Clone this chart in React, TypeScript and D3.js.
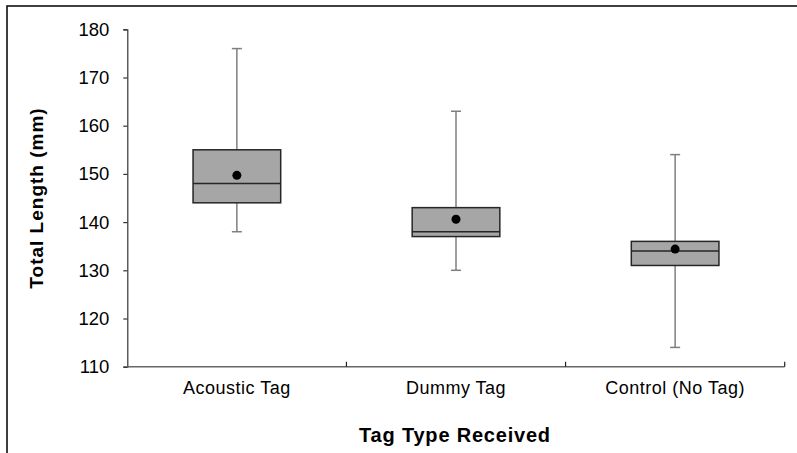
import * as d3 from "d3";
import React, {useEffect, useRef} from "react";

// values (mm)
const categories = ["Acoustic Tag", "Dummy Tag", "Control (No Tag)"];
const whiskerLow = [138, 130, 114];
const q1 = [144, 137, 131];
const medians = [148, 138, 134];
const q3 = [155, 143, 136];
const whiskerHigh = [176, 163, 154];
const means = [149.7, 140.6, 134.4];
const yTicks = [110, 120, 130, 140, 150, 160, 170, 180];

const W = 797;
const H = 453;
const margin = {top: 29.3, right: 12.3, bottom: 86.3, left: 127.3};
const font = "'Liberation Sans', Arial, sans-serif";

const App = () => {
    const svgRef = useRef<SVGSVGElement>(null);

    useEffect(() => {
        const svgEl = d3.select(svgRef.current);
        svgEl.selectAll("*").remove();

        const x = d3.scaleBand()
            .domain(categories)
            .range([margin.left, W - margin.right])
            .padding(0);

        const y = d3.scaleLinear()
            .domain([110, 180])
            .range([H - margin.bottom, margin.top]);

        // outer frame (left + top only)
        svgEl.append("path")
            .attr("d", `M7,${H} L7,6 L${W},6`)
            .attr("fill", "none")
            .attr("stroke", "#000")
            .attr("stroke-width", 1.5);

        // y axis
        const yAxis = svgEl.append("g")
            .attr("transform", `translate(${margin.left},0)`)
            .call(d3.axisLeft(y).tickValues(yTicks).tickSize(4).tickPadding(14).tickFormat(d3.format("d")));
        yAxis.select(".domain").attr("stroke", "#333").attr("stroke-width", 1.2);
        yAxis.selectAll(".tick line").attr("stroke", "#333").attr("stroke-width", 1.2);
        yAxis.selectAll(".tick text")
            .attr("font-family", font)
            .attr("font-size", 18.5)
            .attr("fill", "#000");

        // x axis
        const y0 = y(110);
        const xg = svgEl.append("g");
        xg.append("line")
            .attr("x1", margin.left).attr("x2", W - margin.right)
            .attr("y1", y0).attr("y2", y0)
            .attr("stroke", "#666").attr("stroke-width", 1.5);
        const bounds = categories.map(c => (x(c) as number) + x.bandwidth());
        xg.selectAll(".xtick")
            .data(bounds)
            .enter()
            .append("line")
            .attr("x1", d => d).attr("x2", d => d)
            .attr("y1", y0).attr("y2", y0 - 5)
            .attr("stroke", "#222").attr("stroke-width", 1.2);
        xg.selectAll(".xlab")
            .data(categories)
            .enter()
            .append("text")
            .attr("x", d => (x(d) as number) + x.bandwidth() / 2)
            .attr("y", 394)
            .attr("text-anchor", "middle")
            .attr("font-family", font)
            .attr("font-size", 18)
            .attr("letter-spacing", 0.5)
            .text(d => d);

        // axis titles
        svgEl.append("text")
            .attr("x", 455)
            .attr("y", 442)
            .attr("text-anchor", "middle")
            .attr("font-family", font)
            .attr("font-size", 20)
            .attr("font-weight", "bold")
            .attr("letter-spacing", 0.8)
            .text("Tag Type Received");

        svgEl.append("text")
            .attr("transform", "translate(43,198) rotate(-90)")
            .attr("text-anchor", "middle")
            .attr("font-family", font)
            .attr("font-size", 19)
            .attr("font-weight", "bold")
            .attr("letter-spacing", 1)
            .text("Total Length (mm)");

        // boxes
        const boxW = x.bandwidth() * 0.4;
        const capW = 10;
        const boxes = svgEl.append("g");
        categories.forEach((c, i) => {
            const cx = (x(c) as number) + x.bandwidth() / 2;
            const g = boxes.append("g");
            // whiskers
            g.append("line")
                .attr("x1", cx).attr("x2", cx)
                .attr("y1", y(whiskerHigh[i])).attr("y2", y(q3[i]))
                .attr("stroke", "#7f7f7f").attr("stroke-width", 1.5);
            g.append("line")
                .attr("x1", cx).attr("x2", cx)
                .attr("y1", y(q1[i])).attr("y2", y(whiskerLow[i]))
                .attr("stroke", "#7f7f7f").attr("stroke-width", 1.5);
            [whiskerHigh[i], whiskerLow[i]].forEach(v => {
                g.append("line")
                    .attr("x1", cx - capW / 2).attr("x2", cx + capW / 2)
                    .attr("y1", y(v)).attr("y2", y(v))
                    .attr("stroke", "#7f7f7f").attr("stroke-width", 1.5);
            });
            g.append("rect")
                .attr("x", cx - boxW / 2)
                .attr("y", y(q3[i]))
                .attr("width", boxW)
                .attr("height", y(q1[i]) - y(q3[i]))
                .attr("fill", "#a6a6a6")
                .attr("stroke", "#262626")
                .attr("stroke-width", 1.5);
            g.append("line")
                .attr("x1", cx - boxW / 2).attr("x2", cx + boxW / 2)
                .attr("y1", y(medians[i])).attr("y2", y(medians[i]))
                .attr("stroke", "#262626").attr("stroke-width", 1.5);
            g.append("circle")
                .attr("cx", cx)
                .attr("cy", y(means[i]))
                .attr("r", 4.5)
                .attr("fill", "#000");
        });
    }, []);

    return (
        <svg ref={svgRef} width={W} height={H}
             style={{position: "absolute", left: 0, top: 0, background: "#fff"}}/>
    );
};

export default App;
